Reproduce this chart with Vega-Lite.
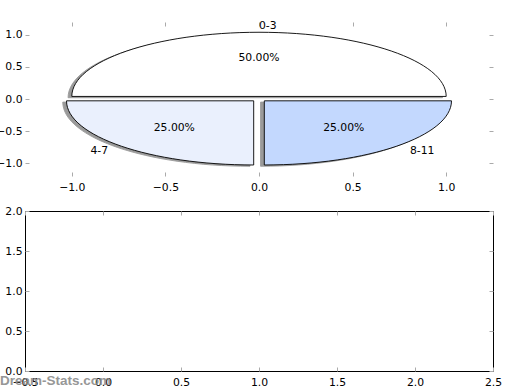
{
  "$schema": "https://vega.github.io/schema/vega-lite/v6.json",
  "padding": {"left": -5, "top": 19, "right": 5, "bottom": 5},
  "background": "white",
  "config": {
    "view": {"stroke": null},
    "font": "DejaVu Sans",
    "axis": {
      "labelFont": "DejaVu Sans",
      "labelFontSize": 10.8,
      "labelColor": "black",
      "tickColor": "#aaaaaa",
      "tickSize": -4,
      "tickWidth": 1,
      "tickCount": 20,
      "domain": false,
      "grid": false,
      "title": null,
      "labelFlush": false,
      "labelOverlap": false,
      "labelBound": false
    },
    "axisX": {"labelPadding": 9},
    "axisY": {"labelPadding": 7}
  },
  "datasets": {
    "pie": [
      {"label": "0-3", "share": 0.5},
      {"label": "4-7", "share": 0.25},
      {"label": "8-11", "share": 0.25}
    ]
  },
  "spacing": 35,
  "bounds": "flush",
  "vconcat": [
    {
      "width": 468,
      "height": 154,
      "view": {"stroke": null},
      "layer": [
        {
          "resolve": {"scale": {"shape": "independent"}},
          "layer": [
            {
              "data": {"name": "pie"},
              "mark": {"type": "point", "filled": true, "opacity": 1, "size": 140175, "fill": "#9a9a9a", "stroke": "#9a9a9a", "strokeWidth": 0.9},
              "encoding": {
                "x": {"datum": 0, "type": "quantitative", "scale": {"domain": [-1.25, 1.25], "nice": false, "zero": false}, "axis": {"values": [-1, -0.5, 0, 0.5, 1], "format": ".1f", "tickCount": 20}},
                "y": {"datum": 0, "type": "quantitative", "scale": {"domain": [-1.2, 1.2], "nice": false, "zero": false}, "axis": {"values": [-1, -0.5, 0, 0.5, 1], "format": ".1f", "tickCount": 20}},
                "shape": {"field": "label", "type": "nominal", "legend": null, "scale": {"domain": ["0-3", "4-7", "8-11"], "range": [
                  "M-0.02,-0.0068L0.98,-0.0068A1,0.3428,0,0,0,-1.02,-0.0068Z",
                  "M-0.0483,0.0166L-1.0483,0.0166A1,0.3428,0,0,0,-0.0483,0.3594Z",
                  "M0.0083,0.0166L0.0083,0.3594A1,0.3428,0,0,0,1.0083,0.0166Z"
                ]}}
              }
            },
            {
              "data": {"name": "pie"},
              "mark": {"type": "point", "filled": true, "opacity": 1, "size": 140175, "stroke": "black", "strokeWidth": 0.9},
              "encoding": {
                "x": {"datum": 0, "type": "quantitative", "scale": {"domain": [-1.25, 1.25], "nice": false, "zero": false}},
                "y": {"datum": 0, "type": "quantitative", "scale": {"domain": [-1.2, 1.2], "nice": false, "zero": false}},
                "color": {"field": "label", "type": "nominal", "legend": null, "scale": {"domain": ["0-3", "4-7", "8-11"], "range": ["#ffffff", "#eaf0fd", "#c3d8fe"]}},
                "shape": {"field": "label", "type": "nominal", "legend": null, "scale": {"domain": ["0-3", "4-7", "8-11"], "range": [
                  "M0,-0.0137L1,-0.0137A1,0.3428,0,0,0,-1,-0.0137Z",
                  "M-0.0283,0.0097L-1.0283,0.0097A1,0.3428,0,0,0,-0.0283,0.3525Z",
                  "M0.0283,0.0097L0.0283,0.3525A1,0.3428,0,0,0,1.0283,0.0097Z"
                ]}}
              }
            },
            {
              "data": {"name": "pie"},
              "transform": [{"filter": "datum.label === '0-3'"}],
              "mark": {"type": "text", "align": "left", "baseline": "middle", "fontSize": 10.8, "color": "black"},
              "encoding": {
                "x": {"datum": 0, "type": "quantitative"},
                "y": {"datum": 1.14, "type": "quantitative"},
                "text": {"field": "label"}
              }
            },
            {
              "data": {"name": "pie"},
              "transform": [{"filter": "datum.label === '4-7'"}],
              "mark": {"type": "text", "align": "right", "baseline": "middle", "fontSize": 10.8, "color": "black"},
              "encoding": {
                "x": {"datum": -0.806, "type": "quantitative"},
                "y": {"datum": -0.806, "type": "quantitative"},
                "text": {"field": "label"}
              }
            },
            {
              "data": {"name": "pie"},
              "transform": [{"filter": "datum.label === '8-11'"}],
              "mark": {"type": "text", "align": "left", "baseline": "middle", "fontSize": 10.8, "color": "black"},
              "encoding": {
                "x": {"datum": 0.806, "type": "quantitative"},
                "y": {"datum": -0.806, "type": "quantitative"},
                "text": {"field": "label"}
              }
            },
            {
              "data": {"name": "pie"},
              "transform": [{"filter": "datum.label === '0-3'"}],
              "mark": {"type": "text", "align": "center", "baseline": "middle", "fontSize": 10.8, "color": "black"},
              "encoding": {
                "x": {"datum": 0, "type": "quantitative"},
                "y": {"datum": 0.64, "type": "quantitative"},
                "text": {"field": "share", "format": ".2%"}
              }
            },
            {
              "data": {"name": "pie"},
              "transform": [{"filter": "datum.label === '4-7'"}],
              "mark": {"type": "text", "align": "center", "baseline": "middle", "fontSize": 10.8, "color": "black"},
              "encoding": {
                "x": {"datum": -0.4525, "type": "quantitative"},
                "y": {"datum": -0.4525, "type": "quantitative"},
                "text": {"field": "share", "format": ".2%"}
              }
            },
            {
              "data": {"name": "pie"},
              "transform": [{"filter": "datum.label === '8-11'"}],
              "mark": {"type": "text", "align": "center", "baseline": "middle", "fontSize": 10.8, "color": "black"},
              "encoding": {
                "x": {"datum": 0.4525, "type": "quantitative"},
                "y": {"datum": -0.4525, "type": "quantitative"},
                "text": {"field": "share", "format": ".2%"}
              }
            }
          ]
        },
        {
          "data": {"values": []},
          "mark": "point",
          "encoding": {
            "x": {"field": "a", "type": "quantitative", "scale": {"domain": [-1.25, 1.25], "nice": false, "zero": false}, "axis": {"orient": "top", "values": [-1, -0.5, 0, 0.5, 1], "labels": false, "tickCount": 20}},
            "y": {"field": "b", "type": "quantitative", "scale": {"domain": [-1.2, 1.2], "nice": false, "zero": false}, "axis": {"orient": "right", "values": [-1, -0.5, 0, 0.5, 1], "labels": false, "tickCount": 20}}
          }
        }
      ],
      "resolve": {"scale": {"x": "independent", "y": "independent"}}
    },
    {
      "width": 468,
      "height": 160,
      "view": {"stroke": "black", "strokeWidth": 1},
      "layer": [
        {
          "layer": [
            {
              "data": {"values": []},
              "mark": "point",
              "encoding": {
                "x": {"field": "a", "type": "quantitative", "scale": {"domain": [-0.5, 2.5], "nice": false, "zero": false}, "axis": {"values": [-0.5, 0, 0.5, 1, 1.5, 2, 2.5], "format": ".1f", "tickCount": 20}},
                "y": {"field": "b", "type": "quantitative", "scale": {"domain": [0, 2], "nice": false, "zero": false}, "axis": {"values": [0, 0.5, 1, 1.5, 2], "format": ".1f", "tickCount": 20}}
              }
            },
            {
              "data": {"values": [{}]},
              "mark": {"type": "text", "text": "Dream-Stats.com", "align": "left", "baseline": "alphabetic", "font": "Liberation Sans", "fontWeight": "bold", "fontSize": 13.5, "color": "#8c8c8c", "opacity": 0.9},
              "encoding": {
                "x": {"datum": -0.66, "type": "quantitative"},
                "y": {"datum": -0.175, "type": "quantitative"}
              }
            }
          ]
        },
        {
          "data": {"values": []},
          "mark": "point",
          "encoding": {
            "x": {"field": "a", "type": "quantitative", "scale": {"domain": [-0.5, 2.5], "nice": false, "zero": false}, "axis": {"orient": "top", "values": [-0.5, 0, 0.5, 1, 1.5, 2, 2.5], "labels": false, "tickCount": 20}},
            "y": {"field": "b", "type": "quantitative", "scale": {"domain": [0, 2], "nice": false, "zero": false}, "axis": {"orient": "right", "values": [0, 0.5, 1, 1.5, 2], "labels": false, "tickCount": 20}}
          }
        }
      ],
      "resolve": {"scale": {"x": "independent", "y": "independent"}}
    }
  ]
}
